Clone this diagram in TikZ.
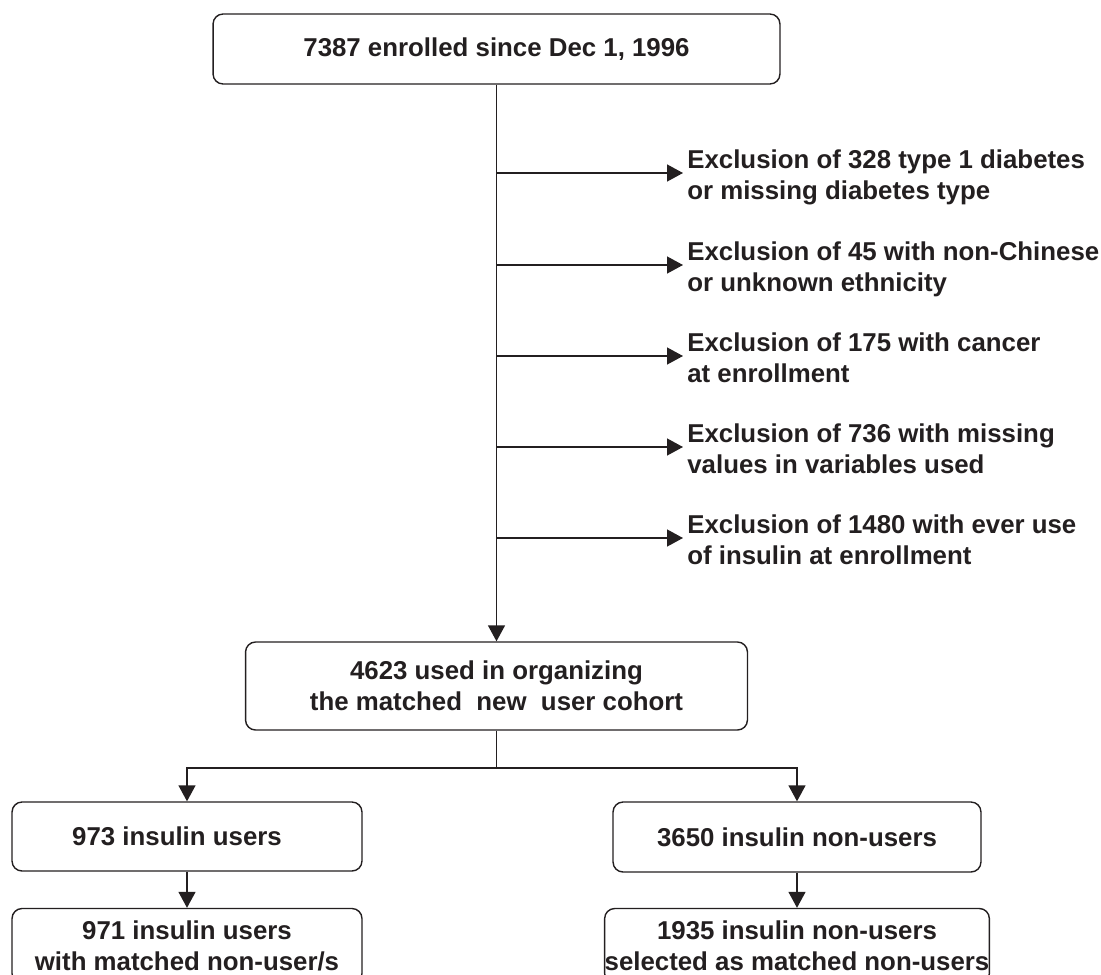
\documentclass[tikz,border=0pt]{standalone}
\usepackage{fontspec}
\setmainfont{Liberation Sans}
\usepackage{xcolor}
\usepackage{tikz}
\definecolor{inkblack}{RGB}{35, 31, 32}
\usetikzlibrary{arrows.meta, positioning, calc}

\begin{document}
\begin{tikzpicture}[
    x=0.02cm, y=-0.02cm,
    box/.style={rectangle, rounded corners=0.2cm, draw=inkblack, line width=0.028cm, text=inkblack,
                align=center, inner sep=0pt, font=\fontsize{14.7}{17.6}\selectfont\bfseries},
    exclusion/.style={anchor=base west, align=left, inner xsep=0.08cm, inner ysep=0pt, text=inkblack,
                font=\fontsize{14.7}{17.6}\selectfont\bfseries},
    link/.style={draw=inkblack, line width=0.028cm},
    flow/.style={link, -{Triangle[length=0.32cm, width=0.34cm]}}
]
    \useasboundingbox (0,0) rectangle (1101,974);

    % Boxes
    \node[box, minimum width=11.34cm, minimum height=1.4cm] (enrolled) at (496.5,49) {7387 enrolled since Dec 1, 1996};
    \node[box, minimum width=10.04cm, minimum height=1.76cm] (cohort) at (496.5,686) {4623 used in organizing\\the matched~ new~ user cohort};
    \node[box, minimum width=7cm, minimum height=1.38cm] (users) at (187,836.5) {973 insulin users\hspace*{0.4cm}};
    \node[box, minimum width=7.36cm, minimum height=1.4cm] (nonusers) at (797,837) {3650 insulin non-users};
    \node[box, minimum width=7cm, minimum height=1.5cm] (matchedusers) at (187,946) {971 insulin users\\with matched non-user/s};
    \node[box, minimum width=7.36cm, minimum height=1.5cm] (matchednonusers) at (797,946) {1935 insulin non-users\\selected as matched non-users};

    % Exclusions (base = last line)
    \node[exclusion] (type) at (683,199) {Exclusion of 328 type 1 diabetes\\or missing diabetes type};
    \node[exclusion] (ethnicity) at (683,291) {Exclusion of 45 with non-Chinese\\or unknown ethnicity};
    \node[exclusion] (cancer) at (683,382) {Exclusion of 175 with cancer\\at enrollment};
    \node[exclusion] (missing) at (683,473) {Exclusion of 736 with missing\\values in variables used};
    \node[exclusion] (insulin) at (683,564) {Exclusion of 1480 with ever use\\of insulin at enrollment};

    % Branch points on the main line
    \coordinate (b1) at (496.5,173);
    \coordinate (b2) at (496.5,265);
    \coordinate (b3) at (496.5,356);
    \coordinate (b4) at (496.5,447);
    \coordinate (b5) at (496.5,538);
    \coordinate (split) at (496.5,768);

    % Arrows
    \draw[flow] (enrolled.south) -- (cohort.north);
    \draw[flow] (b1) -- (b1 -| type.west);
    \draw[flow] (b2) -- (b2 -| ethnicity.west);
    \draw[flow] (b3) -- (b3 -| cancer.west);
    \draw[flow] (b4) -- (b4 -| missing.west);
    \draw[flow] (b5) -- (b5 -| insulin.west);
    \draw[link] (cohort.south) -- (split);
    \draw[flow] (split) -| (users.north);
    \draw[flow] (split) -| (nonusers.north);
    \draw[flow] (users) -- (matchedusers);
    \draw[flow] (nonusers) -- (matchednonusers);
\end{tikzpicture}
\end{document}
